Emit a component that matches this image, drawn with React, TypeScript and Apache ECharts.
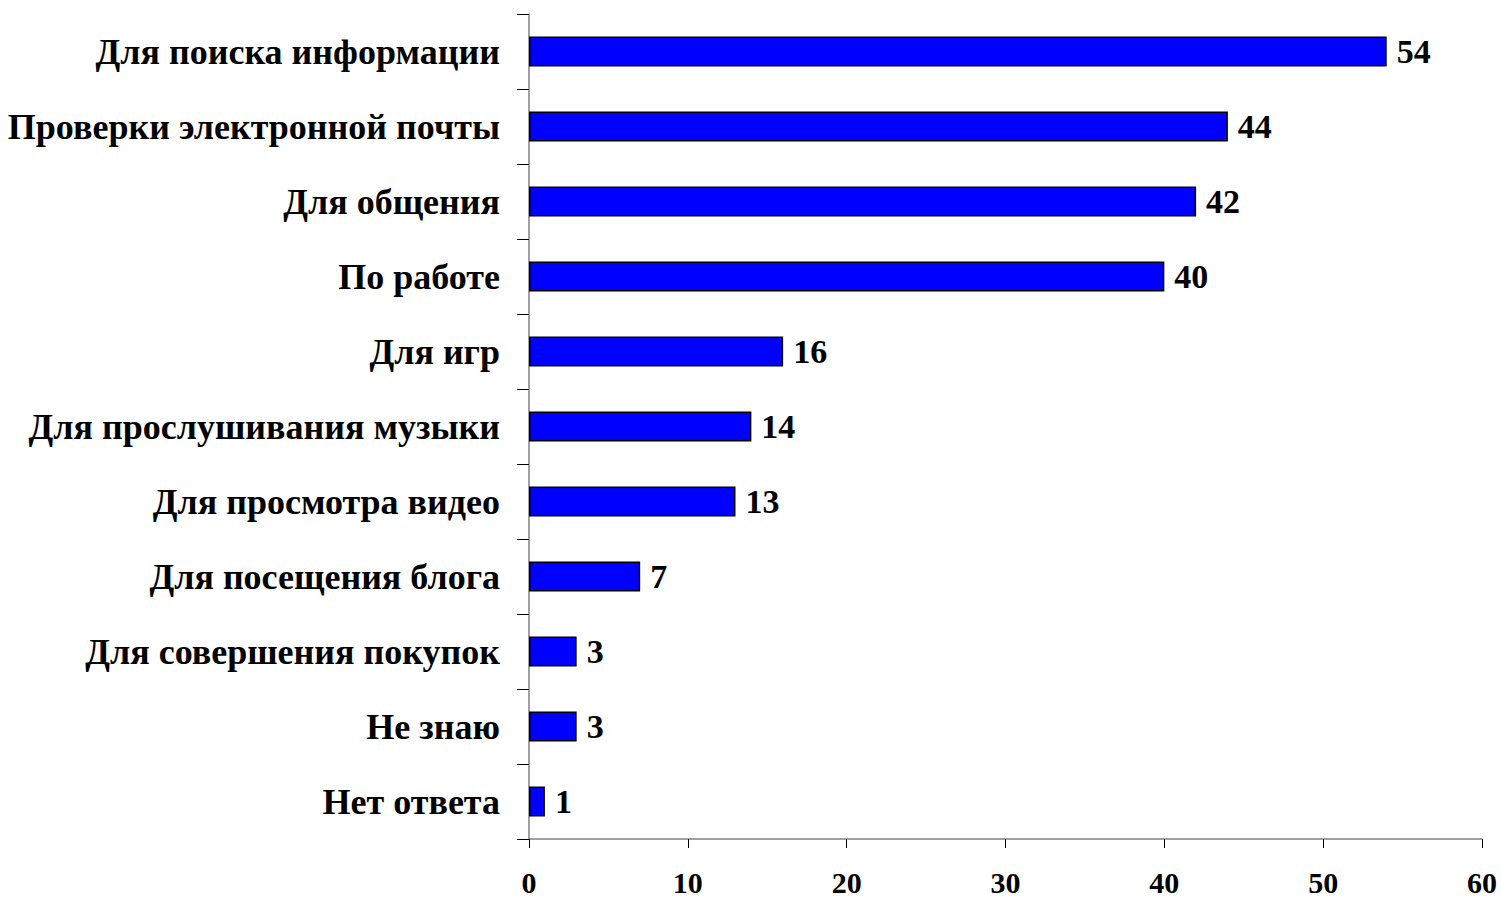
import React, { useEffect, useRef } from "react";
import * as echarts from "echarts";

const categories = [
  "Для поиска информации",
  "Проверки электронной почты",
  "Для общения",
  "По работе",
  "Для игр",
  "Для прослушивания музыки",
  "Для просмотра видео",
  "Для посещения блога",
  "Для совершения покупок",
  "Не знаю",
  "Нет ответа",
];
const values = [54, 44, 42, 40, 16, 14, 13, 7, 3, 3, 1];
const xMin = 0;
const xMax = 60;
const xInterval = 10;

export default function App() {
  const ref = useRef<HTMLDivElement>(null);
  useEffect(() => {
    if (!ref.current) return;
    const chart = echarts.init(ref.current, null, { renderer: "svg" });
    const font = "'Liberation Serif', 'Times New Roman', serif";
    chart.setOption({
      animation: false,
      backgroundColor: "#ffffff",
      grid: { left: 529, right: 19, top: 14, bottom: 58, containLabel: false },
      xAxis: {
        type: "value",
        min: xMin,
        max: xMax,
        interval: xInterval,
        splitLine: { show: false },
        axisLine: { show: true, lineStyle: { color: "#808080", width: 1.5 } },
        axisTick: { show: true, length: 9, lineStyle: { color: "#000000", width: 1 } },
        axisLabel: {
          margin: 28,
          color: "#000000",
          fontFamily: font,
          fontWeight: "bold",
          fontSize: 30,
        },
      },
      yAxis: {
        type: "category",
        data: categories,
        inverse: true,
        axisLine: { show: true, lineStyle: { color: "#808080", width: 1.5 } },
        axisTick: { show: true, length: 12, lineStyle: { color: "#000000", width: 1 } },
        axisLabel: {
          margin: 29,
          color: "#000000",
          fontFamily: font,
          fontWeight: "bold",
          fontSize: 36,
        },
      },
      series: [
        {
          type: "bar",
          data: values,
          barWidth: 30,
          itemStyle: { color: "#0000ff", borderColor: "#000000", borderWidth: 1.5 },
          label: {
            show: true,
            position: "right",
            distance: 10,
            color: "#000000",
            fontFamily: font,
            fontWeight: "bold",
            fontSize: 34,
          },
        },
      ],
    });
    return () => chart.dispose();
  }, []);
  return (
    <div
      ref={ref}
      style={{ position: "fixed", left: 0, top: 0, width: 1501, height: 897 }}
    />
  );
}
